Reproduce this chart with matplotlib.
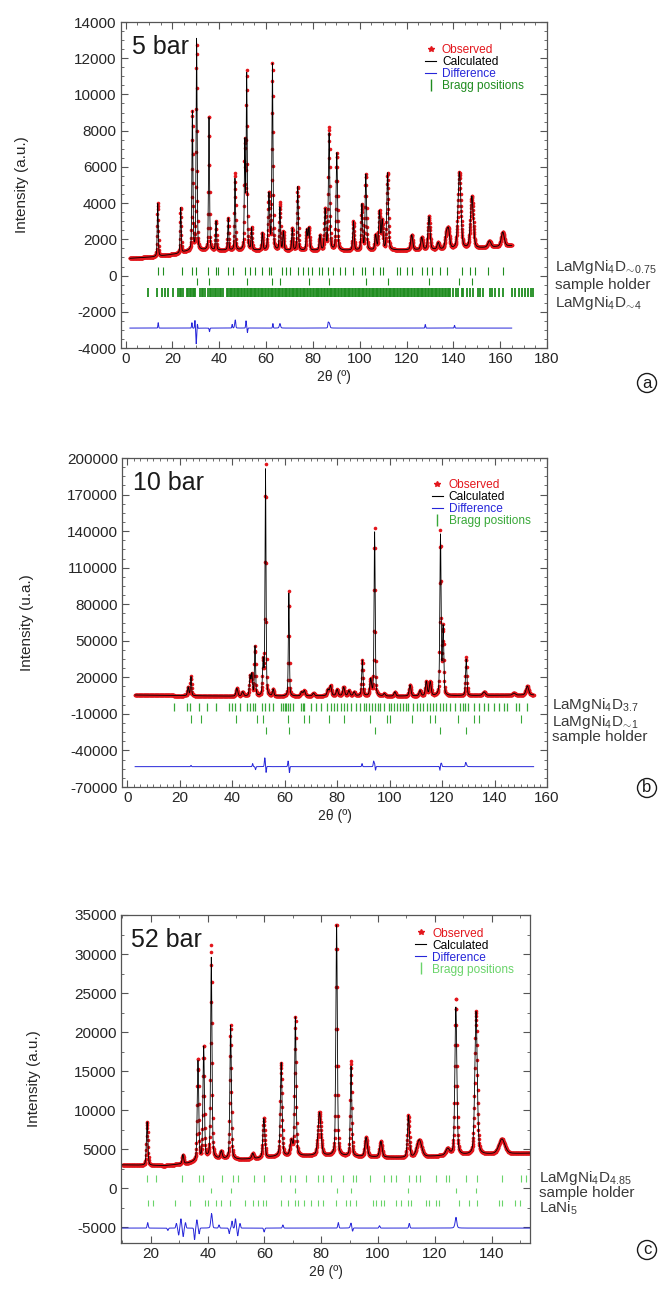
import numpy as np
import matplotlib.pyplot as plt
from matplotlib.lines import Line2D
from matplotlib.ticker import MultipleLocator, AutoMinorLocator

plt.rcParams['font.family'] = ['Liberation Sans', 'DejaVu Sans']
plt.rcParams['mathtext.fontset'] = 'custom'
plt.rcParams['mathtext.rm'] = 'Liberation Sans'
plt.rcParams['axes.unicode_minus'] = False

RED = '#e3161c'
BLUE = '#2626d9'
TXT = '#262626'

# ---------------- (a) 5 bar ----------------
a_range = (1.8, 165.0)
a_bg_x = [1.8, 12, 16, 22, 26, 32, 60, 100, 130, 150, 165]
a_bg_y = [950, 1030, 1100, 1200, 1330, 1400, 1380, 1380, 1420, 1500, 1650]
a_pos = [13.7, 23.5, 28.5, 30.3, 35.6, 38.6, 43.8, 46.7, 50.9, 51.7, 53.8, 58.4, 61.2, 62.7,
         65.9, 67.4, 71.2, 73.5, 77.4, 78.3, 83.0, 85.2, 86.9, 90.2, 97.3, 100.9, 102.6, 106.8,
         108.4, 109.6, 111.9, 122.2, 126.5, 129.6, 133.5, 137.0, 137.9, 142.6, 147.9, 155.4, 161.1]
a_calc = [3990, 3750, 9050, 13100, 8870, 2980, 3160, 5370, 7300, 11070, 2600, 2330, 4500, 11660,
          3750, 2400, 2600, 4900, 2500, 2600, 2200, 3620, 7850, 6750, 2980, 3900, 5550, 2200,
          3500, 3000, 5650, 2240, 2100, 3250, 1800, 2200, 2420, 5700, 4360, 1900, 2400]
a_obs = [3990, 3750, 9050, 12700, 8870, 2980, 3160, 5650, 7300, 11200, 2600, 2330, 4500, 11660,
         4000, 2400, 2600, 4900, 2500, 2600, 2200, 3620, 8150, 6750, 2980, 3900, 5550, 2200,
         3500, 3000, 5650, 2240, 2100, 3250, 1800, 2200, 2420, 5700, 4360, 1900, 2400]
a_fwhm = [0.5, 0.5, 0.5, 0.5, 0.5, 0.5, 0.5, 0.5, 0.5, 0.5, 0.5, 0.6, 0.8, 0.55,
          0.6, 0.6, 0.6, 0.6, 0.7, 0.7, 0.7, 0.7, 0.7, 0.7, 0.7, 0.7, 0.7, 0.8,
          0.8, 0.8, 0.8, 1.0, 1.0, 1.0, 1.0, 1.2, 1.2, 1.4, 1.4, 1.5, 1.5]
# local wiggles seen in the difference curve
a_mis_pos = [13.9, 28.3, 29.6, 30.1, 30.6, 35.8, 45.5, 46.9, 51.4, 52.0, 62.9, 86.5, 128.0, 140.5]
a_mis_amp = [300, 300, 450, -600, 350, -200, 200, 250, 350, -300, 250, 200, 200, 150]
a_bragg1 = [13.7, 15.8, 23.9, 28.5, 29.9, 35.3, 38.6, 39.6, 43.8, 46.0, 51.0, 53.1, 55.3, 58.1,
            61.2, 62.0, 66.7, 68.4, 70.2, 73.5, 75.9, 78.0, 79.5, 82.6, 84.0, 86.6, 88.7, 91.6,
            93.7, 97.3, 100.9, 102.3, 105.8, 108.7, 110.1, 115.8, 117.2, 120.1, 122.2, 126.5,
            128.6, 130.8, 134.3, 137.2, 143.6, 147.1, 149.3, 155.0, 161.4]
a_bragg2 = [30.3, 35.5, 51.7, 62.7, 65.9, 78.3, 86.9, 102.6, 112.0, 129.6, 142.6, 147.9]
a_bragg3 = [9.7, 13.2, 15.4, 16.8, 18.2, 20.3, 22.5, 23.2, 23.8, 24.4, 26.1, 26.8, 27.3, 27.9,
            28.6, 29.1, 29.6, 31.8, 32.5, 33.2, 33.9, 35.3, 35.9, 36.6, 37.4, 38.0, 38.7, 39.3,
            40.1, 40.8, 41.4, 43.2, 43.8, 44.5, 45.0, 45.6, 46.3, 46.8, 47.4, 48.1, 48.6, 49.3,
            49.9, 50.4, 51.1, 51.7, 52.2, 52.9, 53.5, 54.0, 54.7, 55.3, 55.8, 56.5, 57.1, 57.6,
            58.3, 58.8, 59.5, 60.1, 60.6, 61.3, 61.9, 62.4, 63.1, 63.6, 64.3, 64.9, 65.4, 66.1,
            66.6, 67.3, 67.9, 68.4, 69.1, 69.6, 70.3, 70.9, 71.4, 72.1, 72.6, 73.3, 73.8, 74.5,
            75.1, 75.6, 76.3, 76.8, 77.5, 78.0, 78.7, 79.2, 79.9, 80.4, 81.1, 81.6, 82.3, 82.8,
            83.5, 84.0, 84.7, 85.2, 85.9, 86.4, 87.1, 87.6, 88.3, 88.8, 89.5, 90.0, 90.7, 91.2,
            91.9, 92.4, 93.1, 93.6, 94.3, 94.8, 95.5, 96.0, 96.7, 97.2, 97.9, 98.4, 99.1, 99.6,
            100.3, 100.8, 101.5, 102.0, 102.7, 103.2, 103.9, 104.4, 105.1, 105.6, 106.3, 106.8,
            107.5, 108.0, 108.7, 109.2, 109.9, 110.4, 111.1, 111.6, 112.3, 112.8, 113.5, 114.0,
            114.7, 115.2, 115.9, 116.4, 117.1, 117.6, 118.3, 118.8, 119.5, 120.0, 120.7, 121.2,
            121.9, 122.4, 123.1, 123.6, 124.3, 124.8, 125.5, 126.0, 126.7, 127.2, 127.9, 128.4,
            129.1, 129.6, 130.3, 130.8, 131.5, 132.0, 132.7, 133.2, 133.9, 134.4, 135.1, 135.6,
            136.3, 136.8, 137.5, 138.0, 138.6, 140.0, 141.2, 142.0, 143.5, 144.2, 146.0, 147.2,
            148.4, 150.7, 151.5, 152.6, 155.7, 156.4, 157.8, 159.5, 161.4, 165.0, 166.5, 168.0,
            169.2, 170.6, 172.0, 173.2, 174.2]

# ---------------- (b) 10 bar ----------------
b_range = (3.0, 155.0)
b_bg_x = [3, 20, 40, 60, 80, 100, 130, 155]
b_bg_y = [5500, 5000, 4500, 4500, 5000, 4500, 5000, 5500]
b_pos = [23.2, 24.3, 41.8, 44.0, 46.8, 47.5, 48.7, 51.8, 52.7, 55.6, 61.6, 66.5, 67.5, 71.0,
         76.5, 77.5, 80.0, 82.5, 84.5, 86.5, 89.6, 92.8, 94.3, 98.0, 102.0, 107.8, 111.6, 114.0,
         115.5, 119.4, 120.4, 129.2, 136.0, 147.4, 152.5]
b_calc = [12000, 20500, 11000, 8000, 20500, 22000, 45100, 32800, 190000, 10000, 89000, 8000,
          9000, 7000, 10000, 13000, 10000, 12000, 9000, 8000, 34000, 18000, 139000, 6500, 8000,
          13700, 9000, 16500, 16000, 136000, 60000, 35000, 8000, 7000, 12900]
b_obs = [12000, 20500, 11000, 8000, 20500, 22000, 45100, 32800, 194000, 10000, 91000, 8000,
         9000, 7000, 10000, 13000, 10000, 12000, 9000, 8000, 34000, 18000, 142000, 6500, 8000,
         13700, 9000, 16500, 16000, 139000, 60000, 37000, 8000, 7000, 12900]
b_fwhm = [0.6, 0.5, 0.8, 0.8, 0.6, 0.6, 0.5, 0.6, 0.45, 0.6, 0.45, 0.8, 0.8, 0.8,
          0.8, 0.8, 0.8, 0.8, 0.8, 0.8, 0.6, 0.8, 0.5, 0.8, 0.8, 0.8, 0.8, 0.8,
          0.8, 0.55, 0.6, 0.6, 1.2, 1.2, 1.2]
b_mis_pos = [24.3, 47.8, 48.9, 52.4, 52.9, 61.3, 61.8, 89.5, 93.9, 94.6, 119.2, 119.8, 129.0]
b_mis_amp = [1000, 2500, -2500, 6000, -7000, 4000, -6000, 2500, 4000, -4000, -5000, 2000, 2000]
b_bragg1 = [17.9, 22.9, 23.9, 27.5, 30.4, 33.8, 38.6, 40.1, 41.1, 43.0, 45.5, 46.8, 47.8, 48.7,
            51.2, 52.5, 54.1, 55.6, 58.7, 59.4, 60.0, 60.6, 61.3, 61.9, 63.1, 66.3, 66.9, 67.5,
            70.1, 71.9, 73.8, 76.3, 77.6, 78.9, 80.1, 81.4, 82.6, 83.9, 85.2, 87.1, 88.9, 90.2,
            91.0, 92.1, 93.3, 94.6, 95.6, 96.5, 97.7, 99.6, 100.5, 101.5, 102.8, 104.0, 105.3,
            106.2, 107.2, 109.1, 110.3, 111.6, 112.8, 114.1, 115.4, 116.6, 117.8, 119.1, 120.4,
            121.6, 122.9, 124.8, 126.7, 127.9, 128.6, 129.8, 132.3, 134.2, 136.1, 137.4, 139.9,
            141.8, 143.7, 144.9, 148.0, 149.3, 152.5]
b_bragg2 = [24.4, 28.3, 41.5, 49.5, 51.8, 61.3, 67.2, 69.4, 77.0, 82.6, 92.7, 99.0, 100.3,
            108.4, 115.4, 117.2, 126.0, 132.3, 134.2, 149.9]
b_bragg3 = [52.7, 61.6, 94.3, 119.4, 129.2]

# ---------------- (c) 52 bar ----------------
c_range = (10.0, 154.0)
c_bg_x = [10, 25, 33, 40, 52, 57, 65, 80, 100, 110, 125, 154]
c_bg_y = [3000, 2900, 3200, 3800, 3700, 3800, 4100, 4200, 4000, 3900, 4200, 4500]
c_pos = [18.7, 31.3, 36.6, 38.6, 41.3, 44.8, 48.1, 55.9, 59.8, 65.9, 69.5, 70.9, 79.4, 85.4,
         90.5, 95.8, 101.0, 110.7, 114.5, 124.5, 127.4, 134.5, 143.6]
c_calc = [8520, 4300, 16400, 18200, 29600, 4700, 20900, 4450, 8950, 16070, 6000, 21900, 9700,
          34100, 15650, 6500, 6000, 9300, 6200, 5000, 23300, 22650, 6300]
c_obs = [8520, 4300, 16600, 18200, 31200, 4700, 20900, 4450, 8950, 16070, 6000, 21900, 9700,
         34100, 16300, 6500, 6000, 9300, 6200, 5000, 24300, 22650, 6300]
c_fwhm = [0.6, 0.6, 0.6, 0.6, 0.55, 0.8, 0.6, 0.8, 0.8, 0.7, 1.0, 0.6, 1.2, 0.6,
          0.6, 1.0, 1.0, 0.8, 2.0, 1.5, 0.8, 1.0, 2.5]
c_mis_pos = [18.9, 26.0, 29.0, 29.8, 30.6, 31.4, 32.2, 35.4, 36.2, 37.0, 41.6, 44.0, 47.6,
             48.6, 49.8, 50.6, 51.4, 59.9, 66.5, 86.0, 91.0, 100.5, 111.0, 127.5]
c_mis_amp = [700, -300, 600, -900, 1200, -1100, 700, -1500, 1000, -800, 700, 400, -700,
             900, 1200, -1000, 600, -500, 400, 700, -500, 300, 600, 400]
c_bragg1 = [18.5, 21.8, 31.1, 36.9, 38.4, 45.2, 48.9, 50.8, 56.2, 59.8, 65.9, 68.9, 70.6, 74.7,
            78.8, 80.6, 83.5, 87.6, 91.1, 92.3, 97.0, 102.2, 104.6, 106.4, 111.0, 113.4, 114.6,
            120.4, 123.9, 125.1, 131.0, 135.0, 143.8, 150.3, 152.0]
c_bragg2 = [41.3, 48.1, 70.9, 85.4, 90.5, 110.7, 127.4, 134.5]
c_bragg3 = [19.1, 20.8, 28.4, 33.7, 39.0, 40.2, 43.1, 44.8, 47.8, 53.0, 56.0, 57.7, 59.5, 60.7,
            65.9, 68.3, 70.6, 71.8, 74.1, 76.5, 78.8, 80.6, 85.3, 88.8, 90.0, 92.3, 98.1, 99.3,
            101.1, 102.2, 106.4, 108.1, 110.5, 111.7, 116.9, 118.1, 120.4, 121.6, 128.6, 132.1,
            135.0, 142.7, 143.8, 148.3, 150.0]


def profile(x, bgx, bgy, pos, top, fwhm):
    y = np.interp(x, bgx, bgy)
    for p, t, w in zip(pos, top, fwhm):
        amp = t - np.interp(p, bgx, bgy)
        u = (x - p) / (w / 2.0)
        y = y + amp * (0.65 * np.exp(-np.log(2) * u**2) + 0.35 / (1 + u**2))
    return y


def wiggles(x, pos, amp, w):
    d = np.zeros_like(x)
    for p, a in zip(pos, amp):
        d += a * np.exp(-np.log(2) * ((x - p) / (w / 2.0))**2)
    return d


def draw(ax, rng, step, bgx, bgy, pos, calc, obs, fwhm, mis, braggs, diff0, title,
         phases, green, leg_xy):
    x = np.arange(rng[0], rng[1], step)
    ycal = profile(x, bgx, bgy, pos, calc, fwhm)
    yobs = profile(x, bgx, bgy, pos, obs, fwhm)
    ax.plot(x, yobs, ls='none', marker='o', ms=2.6, mew=0, color=RED, zorder=2)
    ax.plot(x, ycal, color='black', lw=0.6, zorder=3)
    ax.plot(x, yobs - ycal + wiggles(x, *mis) + diff0, color=BLUE, lw=0.7, zorder=2)
    for (ticks, yc, hh, lw) in braggs:
        ax.vlines(ticks, yc - hh, yc + hh, color=green, lw=lw, zorder=1)
    ax.text(0.025, 0.96, title, transform=ax.transAxes, fontsize=18, va='top', color='#1a1a1a')
    for lab, yy, xf in phases:
        ax.annotate(lab, xy=(xf, yy), xycoords=('axes fraction', 'data'), fontsize=11,
                    color='#3a3a3a', va='center', ha='left', annotation_clip=False)
    handles = [Line2D([], [], ls='none', marker='*', ms=4, color=RED),
               Line2D([], [], color='black', lw=0.8),
               Line2D([], [], color=BLUE, lw=0.8),
               Line2D([], [], ls='none', marker='|', ms=8, color=green)]
    leg = ax.legend(handles, ['Observed', 'Calculated', 'Difference', 'Bragg positions'],
                    loc='upper left', bbox_to_anchor=leg_xy, frameon=False, fontsize=8.6,
                    handlelength=0.9, handletextpad=0.5, labelspacing=0.0, borderpad=0)
    for t, c in zip(leg.get_texts(), [RED, 'black', BLUE, green]):
        t.set_color(c)
    ax.tick_params(which='both', direction='in', top=True, right=True, labelsize=11,
                   labelcolor=TXT, color='#555555', pad=3)
    ax.tick_params(which='major', length=5)
    ax.tick_params(which='minor', length=2.5)
    for s in ax.spines.values():
        s.set_color('#555555')
        s.set_linewidth(0.9)
    ax.set_xlabel('2θ (º)', fontsize=10, color=TXT, labelpad=3)


fig = plt.figure(figsize=(6.6, 12.92), dpi=100)
W, H = 660.0, 1292.0


def axes_px(l, t, r, b):
    return fig.add_axes([l / W, 1 - b / H, (r - l) / W, (b - t) / H])


# (a)
ax1 = axes_px(121, 22, 547, 348)
draw(ax1, a_range, 0.08, a_bg_x, a_bg_y, a_pos, a_calc, a_obs, a_fwhm,
     (a_mis_pos, a_mis_amp, 0.35),
     [(a_bragg1, 255, 220, 0.8), (a_bragg2, -325, 195, 0.8), (a_bragg3, -930, 250, 1.3)],
     -2900, '5 bar',
     [(r'LaMgNi$_4$D$_{\!\sim\!0.75}$', 476, 1.019), ('sample holder', -520, 1.019),
      (r'LaMgNi$_4$D$_{\!\sim\!4}$', -1510, 1.019)], '#1f8c1f', (0.70, 0.95))
ax1.set_xlim(-2, 180)
ax1.set_ylim(-4000, 14000)
ax1.xaxis.set_major_locator(MultipleLocator(20))
ax1.xaxis.set_minor_locator(AutoMinorLocator(4))
ax1.yaxis.set_major_locator(MultipleLocator(2000))
ax1.yaxis.set_minor_locator(AutoMinorLocator(4))
ax1.set_ylabel('Intensity (a.u.)', fontsize=11, color=TXT)
ax1.yaxis.set_label_coords(-0.215, 0.5)

# (b)
ax2 = axes_px(122, 458, 547, 787)
draw(ax2, b_range, 0.1, b_bg_x, b_bg_y, b_pos, b_calc, b_obs, b_fwhm,
     (b_mis_pos, b_mis_amp, 0.35),
     [(b_bragg1, -4350, 3300, 0.9), (b_bragg2, -14200, 3300, 0.8), (b_bragg3, -23700, 2900, 0.8)],
     -53300, '10 bar',
     [(r'LaMgNi$_4$D$_{3.7}$', -2700, 1.011), (r'LaMgNi$_4$D$_{\!\sim\!1}$', -16700, 1.011),
      ('sample holder', -29000, 1.011)], '#38a838', (0.715, 0.955))
ax2.set_xlim(-2, 160)
ax2.set_ylim(-70000, 200000)
ax2.set_yticks(np.arange(-70000, 200001, 30000))
ax2.xaxis.set_major_locator(MultipleLocator(20))
ax2.xaxis.set_minor_locator(AutoMinorLocator(8))
ax2.yaxis.set_minor_locator(AutoMinorLocator(4))
ax2.set_ylabel('Intensity (u.a.)', fontsize=11, color=TXT)
ax2.yaxis.set_label_coords(-0.207, 0.5)

# (c)
ax3 = axes_px(121, 915, 530, 1243)
draw(ax3, c_range, 0.08, c_bg_x, c_bg_y, c_pos, c_calc, c_obs, c_fwhm,
     (c_mis_pos, c_mis_amp, 0.45),
     [(c_bragg1, 1270, 400, 0.8), (c_bragg2, -320, 320, 0.8), (c_bragg3, -1900, 380, 0.8)],
     -5090, '52 bar',
     [(r'LaMgNi$_4$D$_{4.85}$', 1270, 1.022), ('sample holder', -640, 1.022),
      (r'LaNi$_5$', -2540, 1.022)], '#6ad46a', (0.705, 0.98))
ax3.set_xlim(9.5, 153.5)
ax3.set_ylim(-7000, 35000)
ax3.xaxis.set_major_locator(MultipleLocator(20))
ax3.xaxis.set_minor_locator(AutoMinorLocator(2))
ax3.yaxis.set_major_locator(MultipleLocator(5000))
ax3.yaxis.set_minor_locator(AutoMinorLocator(2))
ax3.set_ylabel('Intensity (a.u.)', fontsize=11, color=TXT)
ax3.yaxis.set_label_coords(-0.195, 0.5)

# circled panel letters
for lab, yy in [('a', 383), ('b', 788), ('c', 1250)]:
    fig.text(647 / W, 1 - yy / H, lab, ha='center', va='center', fontsize=12, color='#1a1a1a',
             bbox=dict(boxstyle='circle,pad=0.12', fc='white', ec='#1a1a1a', lw=1.0))

fig.savefig('out.png', dpi=100)
